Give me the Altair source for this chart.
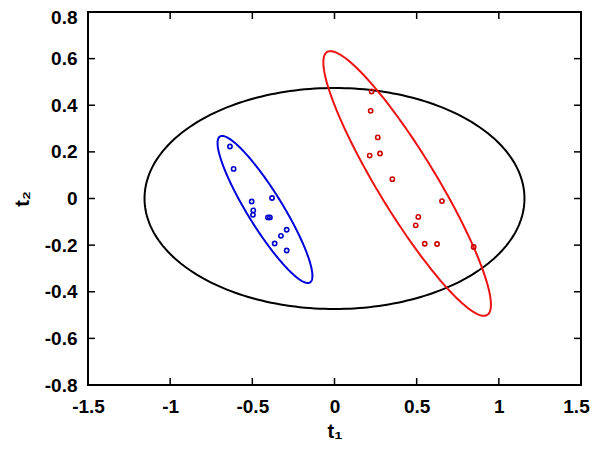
import numpy as np
import pandas as pd
import altair as alt

# ---- data ----
blue_t1 = [-0.636, -0.614, -0.504, -0.380, -0.494, -0.496, -0.405, -0.393, -0.291, -0.326, -0.364, -0.291]
blue_t2 = [0.223, 0.127, -0.013, 0.002, -0.051, -0.070, -0.081, -0.081, -0.134, -0.160, -0.193, -0.223]
red_t1 = [0.226, 0.220, 0.263, 0.214, 0.277, 0.352, 0.654, 0.510, 0.494, 0.549, 0.624, 0.847]
red_t2 = [0.459, 0.376, 0.262, 0.184, 0.193, 0.083, -0.011, -0.079, -0.115, -0.194, -0.195, -0.208]

# ellipses: name, centre (t1, t2), first semi-axis vector, second semi-axis vector
ell_names = ["black", "blue", "red"]
ell_centre = [(0.0, 0.0), (-0.423, -0.047), (0.442, 0.0645)]
ell_u = [(1.156, 0.0), (0.274, -0.313), (0.487, -0.564)]
ell_v = [(0.0, 0.474), (0.0907, 0.0394), (0.151, 0.0645)]

x_ticks = [-1.5, -1, -0.5, 0, 0.5, 1, 1.5]
y_ticks = [-0.8, -0.6, -0.4, -0.2, 0, 0.2, 0.4, 0.6, 0.8]

colors = {"black": "#000000", "blue": "#0000dd", "red": "#ee1111"}
pt_colors = {"blue": "#0000cc", "red": "#cc0000"}

W, H = 493, 373

# ---- tables ----
rows = []
t = np.linspace(0, 2 * np.pi, 241)
for name, c, u, v in zip(ell_names, ell_centre, ell_u, ell_v):
    for i, a in enumerate(t):
        rows.append({"g": name, "i": i,
                     "t1": c[0] + np.cos(a) * u[0] + np.sin(a) * v[0],
                     "t2": c[1] + np.cos(a) * u[1] + np.sin(a) * v[1]})
ell_df = pd.DataFrame(rows)

pts_df = pd.DataFrame({
    "t1": blue_t1 + red_t1,
    "t2": blue_t2 + red_t2,
    "g": ["blue"] * len(blue_t1) + ["red"] * len(red_t1),
})

xs = alt.Scale(domain=[-1.5, 1.5], nice=False, zero=False)
ys = alt.Scale(domain=[-0.8, 0.8], nice=False, zero=False)

FONT = "Liberation Sans"

x_enc = alt.X("t1:Q", scale=xs, axis=alt.Axis(
    title="t₁", values=x_ticks, ticks=False, domain=False, grid=False,
    labelExpr="toString(datum.value)",
    labelOffset=alt.ExprRef("datum.value == 1.5 ? -5 : 0"),
    labelFont=FONT, labelFontWeight="bold", labelFontSize=19, labelColor="black",
    labelPadding=12, titleFont=FONT, titleFontWeight="bold", titleFontSize=20,
    titleColor="black", titlePadding=5, labelFlush=False, labelOverlap=False))
y_enc = alt.Y("t2:Q", scale=ys, axis=alt.Axis(
    title="t₂", values=y_ticks, ticks=False, domain=False, grid=False,
    labelExpr="toString(datum.value)",
    labelOffset=alt.ExprRef("datum.value == 0.8 ? 5 : 0"),
    labelFont=FONT, labelFontWeight="bold", labelFontSize=19, labelColor="black",
    labelPadding=11, titleFont=FONT, titleFontWeight="bold", titleFontSize=20,
    titleColor="black", titlePadding=12, labelFlush=False, labelOverlap=False))

ellipses = alt.Chart(ell_df).mark_line(strokeWidth=2, clip=True).encode(
    x=x_enc, y=y_enc,
    color=alt.Color("g:N", scale=alt.Scale(domain=list(colors.keys()),
                                           range=list(colors.values())), legend=None),
    detail="g:N",
    order="i:Q",
)

points = alt.Chart(pts_df).mark_point(shape="circle", filled=False, size=18,
                                      strokeWidth=1.6, opacity=1).encode(
    x=alt.X("t1:Q", scale=xs),
    y=alt.Y("t2:Q", scale=ys),
    color=alt.Color("g:N", scale=alt.Scale(domain=list(pt_colors.keys()),
                                           range=list(pt_colors.values())), legend=None),
)

xt = pd.DataFrame({"v": x_ticks})
yt = pd.DataFrame({"v": y_ticks})
tick_len = 7
xtick_bot = alt.Chart(xt).mark_rule(color="black", strokeWidth=1.5).encode(
    x=alt.X("v:Q", scale=xs), y=alt.value(H), y2=alt.value(H - tick_len))
xtick_top = alt.Chart(xt).mark_rule(color="black", strokeWidth=1.5).encode(
    x=alt.X("v:Q", scale=xs), y=alt.value(0), y2=alt.value(tick_len))
ytick_left = alt.Chart(yt).mark_rule(color="black", strokeWidth=1.5).encode(
    y=alt.Y("v:Q", scale=ys), x=alt.value(0), x2=alt.value(tick_len))
ytick_right = alt.Chart(yt).mark_rule(color="black", strokeWidth=1.5).encode(
    y=alt.Y("v:Q", scale=ys), x=alt.value(W), x2=alt.value(W - tick_len))

chart = alt.layer(ellipses, points, xtick_bot, xtick_top, ytick_left, ytick_right).resolve_scale(
    color="independent"
).properties(
    width=W, height=H,
    autosize=alt.AutoSizeParams(type="none"),
    padding={"left": 80, "top": 4, "right": 11, "bottom": 58},
    background="white",
).configure_view(stroke="black", strokeWidth=2)

chart.save("out.html", embed_options={"renderer": "svg", "actions": False})
